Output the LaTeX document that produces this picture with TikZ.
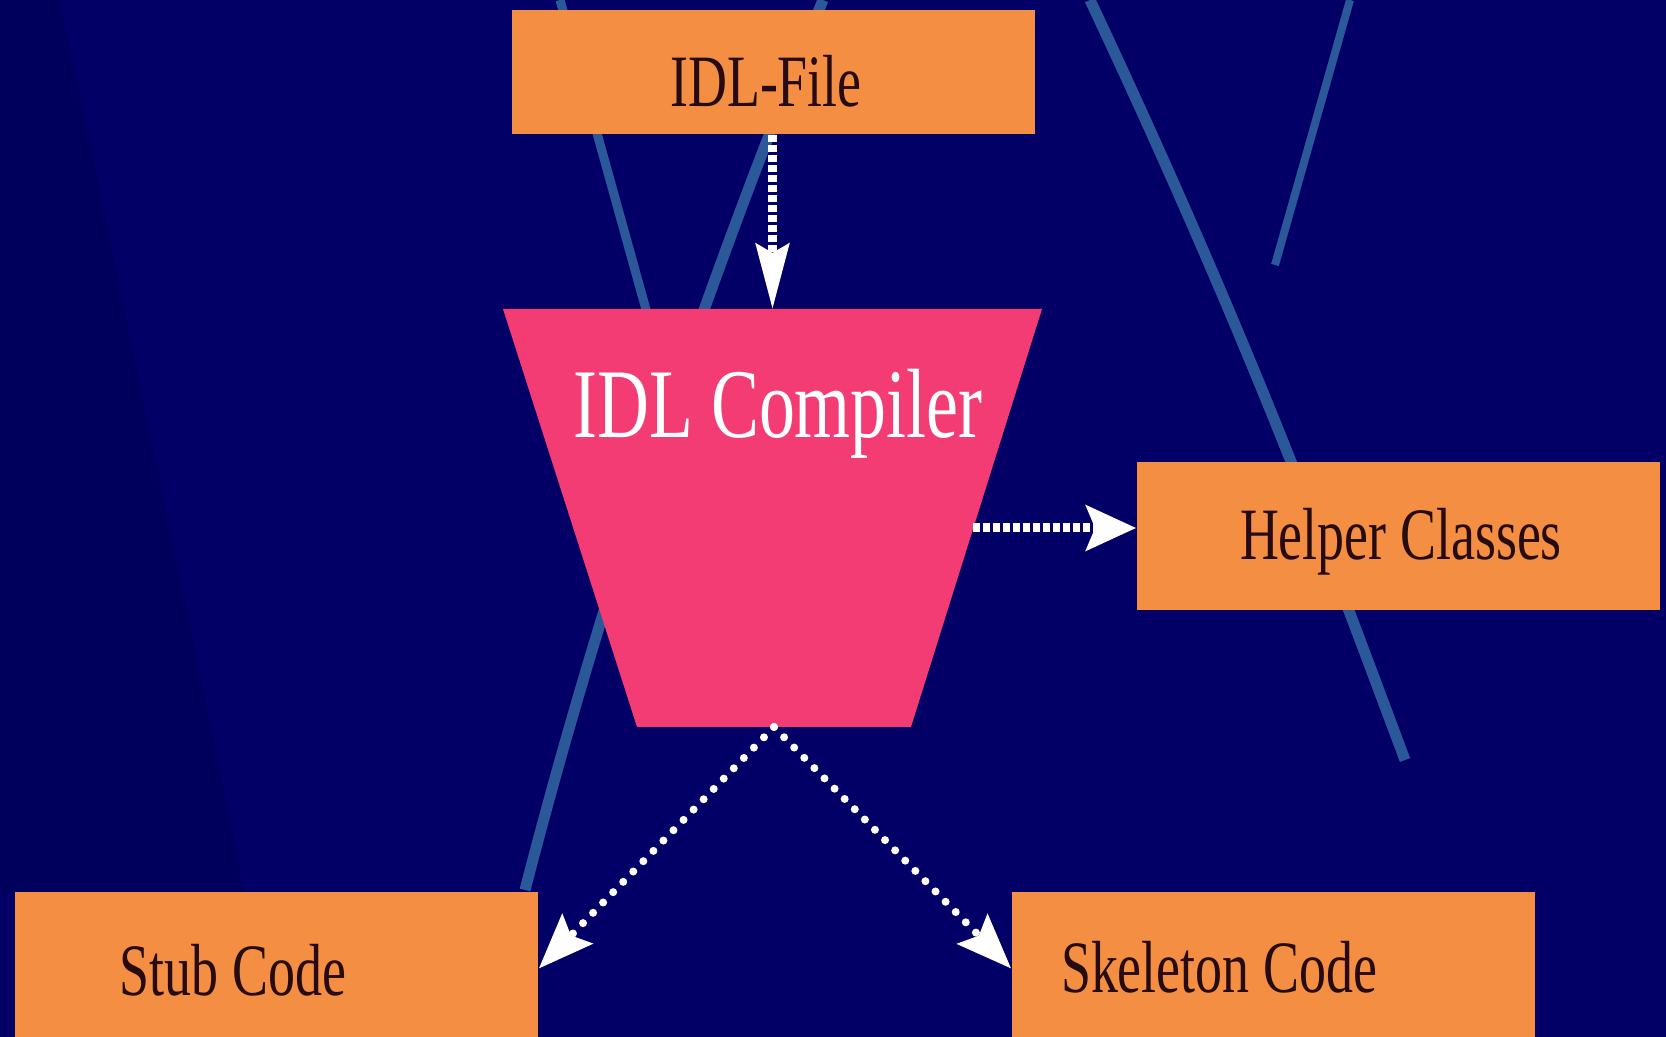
\documentclass[tikz,border=0pt]{standalone}
\usepackage{fontspec}
\setmainfont{Liberation Serif}
\usetikzlibrary{arrows.meta,positioning}
\definecolor{slidebg}{RGB}{2,0,102}
\definecolor{slidedark}{RGB}{0,0,92}
\definecolor{streak}{RGB}{42,88,152}
\definecolor{boxorange}{RGB}{243,142,66}
\definecolor{comppink}{RGB}{243,60,116}
\definecolor{boxtext}{RGB}{38,12,18}
\newcommand{\narrowtext}[1]{\scalebox{0.73}[1]{#1}}
\tikzset{
    filebox/.style={
    rectangle,fill=boxorange,minimum width=5.23cm,inner sep=0pt
    },
    boxlabel/.style={
    anchor=base,text=boxtext,font=\fontsize{21}{24}\selectfont
    },
    complabel/.style={
    anchor=base,text=white,font=\fontsize{28}{32}\selectfont
    },
    dashflow/.style={
    draw=white,line width=0.09cm,dash pattern=on 0.07cm off 0.03cm
    },
    dotflow/.style={
    draw=white,line width=0.08cm,line cap=round,dash pattern=on 0pt off 0.144cm
    },
    streakline/.style={
    draw=streak,line width=0.11cm
    },
}

\begin{document}
\begin{tikzpicture}[x=0.01cm,y=-0.01cm]
  \useasboundingbox (0,0) rectangle (1666,1037);
  % slide background
  \fill[slidebg] (0,0) rectangle (1666,1037);
  \fill[slidedark] (0,0) -- (60,0) -- (245,892) -- (0,892) -- cycle;
  \draw[streakline,line width=0.09cm] (560,0) -- (660,360);
  \draw[streakline] (823,0) .. controls (700,300) and (600,600) .. (525,890);
  \draw[streakline] (1090,0) .. controls (1250,340) and (1330,560) .. (1405,760);
  \draw[streakline,line width=0.08cm] (1350,0) -- (1275,265);

  % the compiler funnel
  \fill[comppink] (503,309) -- (1042,309) -- (911,727) -- (637,727) -- cycle;
  \coordinate (comptop) at (772.5,309);
  \coordinate (compright) at (973,528);
  \coordinate (compbottom) at (774,727);

  \node[filebox,minimum height=1.24cm] (idl) at (773.5,72) {};
  \node[filebox,minimum height=1.48cm] (helper) at (1398.5,536) {};
  \node[filebox,minimum height=1.53cm] (stub) at (276.5,968.5) {};
  \node[filebox,minimum height=1.53cm] (skel) at (1273.5,968.5) {};

  \node[boxlabel] (idltext) at (766,107) {\narrowtext{IDL-File}};
  \node[complabel] (comptext) at (778,438) {\narrowtext{IDL Compiler}};
  \node[boxlabel] (helpertext) at (1401,560) {\narrowtext{Helper Classes}};
  \node[boxlabel] (stubtext) at (233,995) {\narrowtext{Stub Code}};
  \node[boxlabel] (skeltext) at (1219,993) {\narrowtext{Skeleton Code}};

  \draw[dashflow,-{Stealth[length=0.65cm,width=0.33cm,inset=0.09cm]}] (idl.south -| comptop) -- (comptop);
  \draw[dashflow,-{Stealth[length=0.5cm,width=0.45cm,inset=0.09cm]}] (compright) -- (compright -| helper.west);
  \draw[dotflow,-{Stealth[length=0.55cm,width=0.42cm,inset=0.09cm]}] (compbottom) -- (stub.east);
  \draw[dotflow,-{Stealth[length=0.55cm,width=0.42cm,inset=0.09cm]}] (compbottom) -- (skel.west);
\end{tikzpicture}
\end{document}
